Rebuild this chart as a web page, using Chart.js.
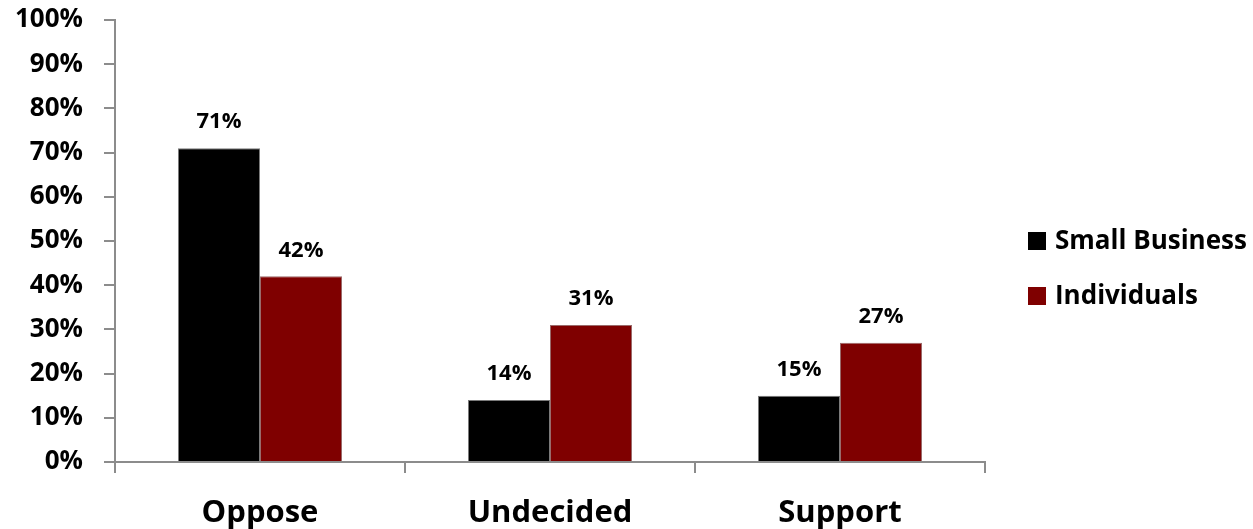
<!DOCTYPE html>
<html>
<head>
<meta charset="utf-8">
<script src="https://cdn.jsdelivr.net/npm/chart.js@4.4.1/dist/chart.umd.min.js"></script>
<style>
  html, body { margin: 0; padding: 0; background: #ffffff; }
  #wrap { width: 1253px; height: 529px; position: relative; }
</style>
</head>
<body>
<div id="wrap"><canvas id="c" width="1253" height="529"></canvas></div>
<script>
// Survey responses by group
const categories = ['Oppose', 'Undecided', 'Support'];
const seriesNames = ['Small Business', 'Individuals'];
const smallBusiness = [71, 14, 15];
const individuals = [42, 31, 27];
const seriesColors = ['#000000', '#7f0000'];
const yTicks = [0, 10, 20, 30, 40, 50, 60, 70, 80, 90, 100];

const FONT = '"Open Sans", Lato, "Liberation Sans", sans-serif';
const AXIS = '#8c8c8c';

// Value labels above each bar
const valueLabels = {
  id: 'valueLabels',
  afterDatasetsDraw(chart) {
    const ctx = chart.ctx;
    ctx.save();
    ctx.font = 'bold 22px ' + FONT;
    ctx.fillStyle = '#000';
    ctx.textAlign = 'center';
    ctx.textBaseline = 'middle';
    chart.data.datasets.forEach((ds, i) => {
      chart.getDatasetMeta(i).data.forEach((bar, j) => {
        ctx.fillText(ds.data[j] + '%', bar.x, bar.y - 26);
      });
    });
    ctx.restore();
  }
};

// Legend on the right, built from the dataset names and colours
const sideLegend = {
  id: 'sideLegend',
  afterDraw(chart) {
    const ctx = chart.ctx;
    ctx.save();
    ctx.font = 'bold 26px ' + FONT;
    ctx.textBaseline = 'middle';
    ctx.textAlign = 'left';
    const x0 = 1028, yStart = 241, step = 55;
    chart.data.datasets.forEach((ds, i) => {
      const y = yStart + i * step;
      ctx.fillStyle = ds.backgroundColor;
      ctx.fillRect(x0, y - 9, 18, 18);
      ctx.fillStyle = '#000';
      ctx.fillText(ds.label, x0 + 27, y + 1);
    });
    ctx.restore();
  }
};

new Chart(document.getElementById('c'), {
  type: 'bar',
  data: {
    labels: categories,
    datasets: [
      { label: seriesNames[0], data: smallBusiness, backgroundColor: seriesColors[0],
        borderColor: '#7a7a7a', borderWidth: 1 },
      { label: seriesNames[1], data: individuals, backgroundColor: seriesColors[1],
        borderColor: '#9a6a6a', borderWidth: 1 }
    ]
  },
  options: {
    responsive: false,
    animation: false,
    devicePixelRatio: 1,
    datasets: { bar: { barPercentage: 1, categoryPercentage: 0.5655 } },
    layout: { padding: { top: 20, right: 268, left: 0, bottom: 0 } },
    plugins: { legend: { display: false }, tooltip: { enabled: false } },
    scales: {
      x: {
        grid: { display: true, offset: true, drawOnChartArea: false, drawTicks: true,
                tickLength: 11, color: AXIS, lineWidth: 2 },
        border: { display: true, color: AXIS, width: 2 },
        ticks: { color: '#000', font: { family: FONT, size: 31, weight: 'bold' }, padding: 22 },
        afterFit(scale) {
          scale.height = 67;
          scale.paddingLeft = 0; scale.paddingRight = 0;
        }
      },
      y: {
        min: 0, max: 100,
        afterBuildTicks(scale) { scale.ticks = yTicks.map(v => ({ value: v })); },
        grid: { display: true, drawOnChartArea: false, drawTicks: true,
                tickLength: 11, color: AXIS, lineWidth: 2 },
        border: { display: true, color: AXIS, width: 2 },
        ticks: { color: '#000', font: { family: FONT, size: 26, weight: 'bold' }, padding: 21,
                 callback: v => v + '%' },
        afterFit(scale) {
          scale.width = 115;
          scale.paddingTop = 0; scale.paddingBottom = 0;
        }
      }
    }
  },
  plugins: [valueLabels, sideLegend]
});
</script>
</body>
</html>
